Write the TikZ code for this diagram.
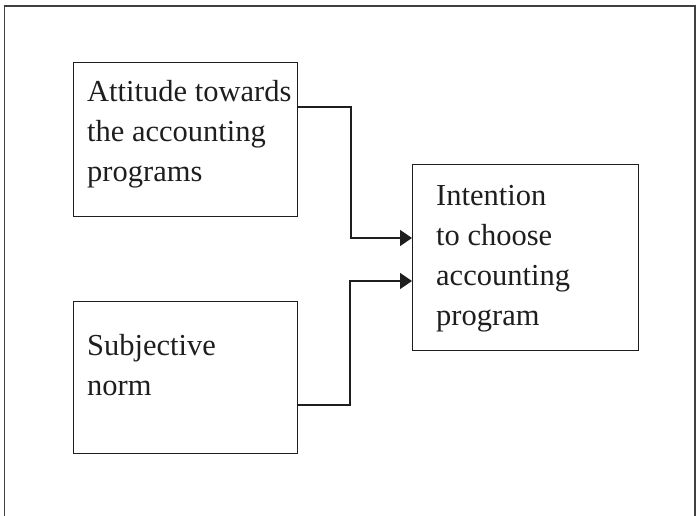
\documentclass[tikz,border=0pt]{standalone}
\usepackage{fontspec}
\setmainfont{Liberation Serif}
\usetikzlibrary{arrows.meta}
\definecolor{ink}{HTML}{1E1E1E}
\tikzset{
  boxnode/.style={draw=ink, line width=1.4pt, rectangle, inner sep=0pt, anchor=north west},
  txt/.style={anchor=base west, inner sep=0pt, text=ink, font=\fontsize{30.5}{40}\selectfont, align=left},
  conn/.style={draw=ink, line width=1.5pt, -{Triangle[length=12pt,width=16pt]}},
  frameline/.style={draw=ink!85, line width=1.2pt}
}
\begin{document}
\begin{tikzpicture}[x=1pt,y=-1pt]
\useasboundingbox (0,0) rectangle (698,516);
\draw[frameline] (4.5,516) -- (4.5,6) -- (695,6) -- (695,516);
% boxes
\node[boxnode, minimum width=224pt, minimum height=154pt] (b1) at (73,62) {};
\node[boxnode, minimum width=224pt, minimum height=152pt] (b2) at (73,300.5) {};
\node[boxnode, minimum width=226pt, minimum height=186pt] (b3) at (412,164) {};
% texts (anchored at the baseline of their last line)
\node[txt] (t1) at (87,181.7) {Attitude towards\\the accounting\\programs};
\node[txt] (t2) at (87,395) {Subjective\\norm};
\node[txt] (t3) at (436,325) {Intention\\to choose\\accounting\\program};
% connectors
\draw[conn] (b1.east |- 0,107) -| (351,238) -- (b3.west |- 0,238);
\draw[conn] (b2.east |- 0,405) -| (350,281) -- (b3.west |- 0,281);
\end{tikzpicture}
\end{document}
